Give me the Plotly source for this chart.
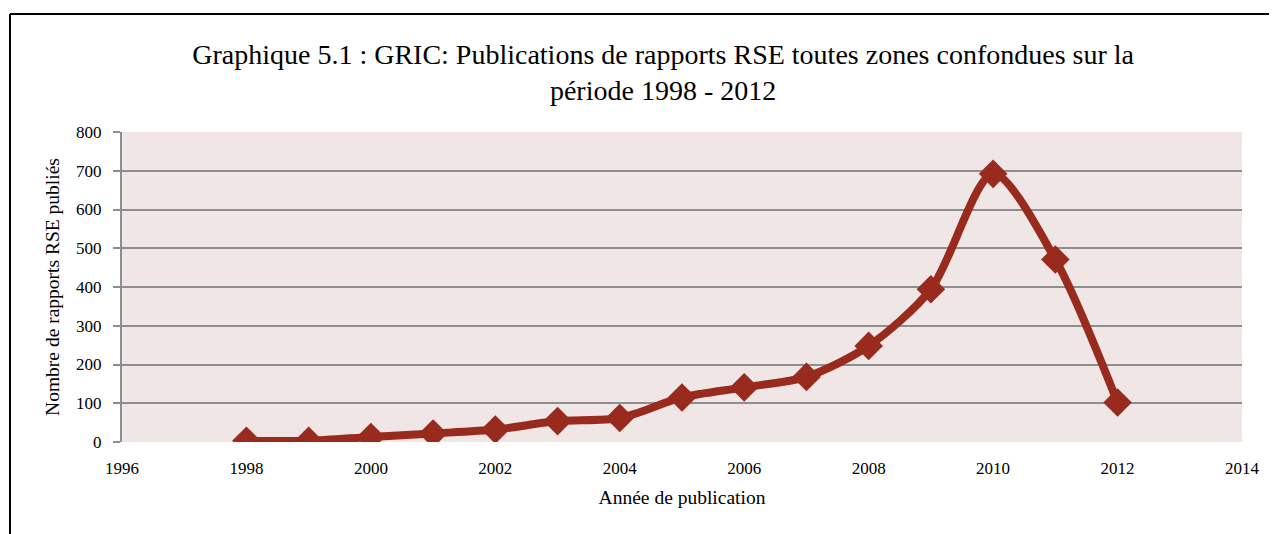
import plotly.graph_objects as go

years = [1998, 1999, 2000, 2001, 2002, 2003, 2004, 2005, 2006, 2007, 2008, 2009, 2010, 2011, 2012]
rapports = [3, 3, 13, 22, 32, 54, 62, 115, 141, 168, 248, 394, 692, 471, 102]

y_ticks = [0, 100, 200, 300, 400, 500, 600, 700, 800]
x_ticks = [1996, 1998, 2000, 2002, 2004, 2006, 2008, 2010, 2012, 2014]

RED = "#982A1E"
GRID = "#8E8E8E"
FONT = "Liberation Serif"


def draw():
    fig = go.Figure()
    fig.add_trace(go.Scatter(
        x=years, y=rapports, mode="lines+markers",
        line=dict(color=RED, width=8, shape="spline", smoothing=0.8),
        marker=dict(symbol="diamond", size=22, color=RED),
        showlegend=False,
    ))

    fig.update_xaxes(range=[1996, 2014], tickvals=x_ticks, showgrid=False,
                     zeroline=False, showline=False, ticks="",
                     ticklabelstandoff=14,
                     tickfont=dict(family=FONT, size=17, color="black"),
                     title=dict(text="Année de publication", standoff=13,
                                font=dict(family=FONT, size=19.5, color="black")))
    fig.update_yaxes(range=[0, 800], tickvals=y_ticks, showgrid=True,
                     gridcolor=GRID, gridwidth=2, zeroline=False,
                     showline=True, linecolor=GRID, linewidth=2,
                     ticks="outside", ticklen=7, tickcolor=GRID, tickwidth=2,
                     ticklabelstandoff=8,
                     tickfont=dict(family=FONT, size=17, color="black"),
                     title=dict(text="Nombre de rapports RSE publiés", standoff=11,
                                font=dict(family=FONT, size=19.5, color="black")))

    # frame around the chart (cropped at right and bottom in the original)
    fig.add_shape(type="line", xref="paper", yref="paper",
                  x0=-0.1, x1=-0.1, y0=-0.4, y1=1.381,
                  line=dict(color="black", width=2))
    fig.add_shape(type="line", xref="paper", yref="paper",
                  x0=-0.1, x1=1.04, y0=1.381, y1=1.381,
                  line=dict(color="black", width=2))

    # page body has an 8px margin, so margins are shifted to compensate
    fig.update_layout(
        width=1277, height=534,
        margin=dict(l=114, r=43, t=124, b=100),
        plot_bgcolor="#EFE6E5",
        paper_bgcolor="white",
        title=dict(text="Graphique 5.1 : GRIC: Publications de rapports RSE toutes zones confondues sur la<br>période 1998 - 2012",
                   x=0.513, xanchor="center", y=0.896, yanchor="top",
                   font=dict(family=FONT, size=28, color="black")),
    )

    fig.write_html("out.html")


if __name__ == "__main__":
    draw()
